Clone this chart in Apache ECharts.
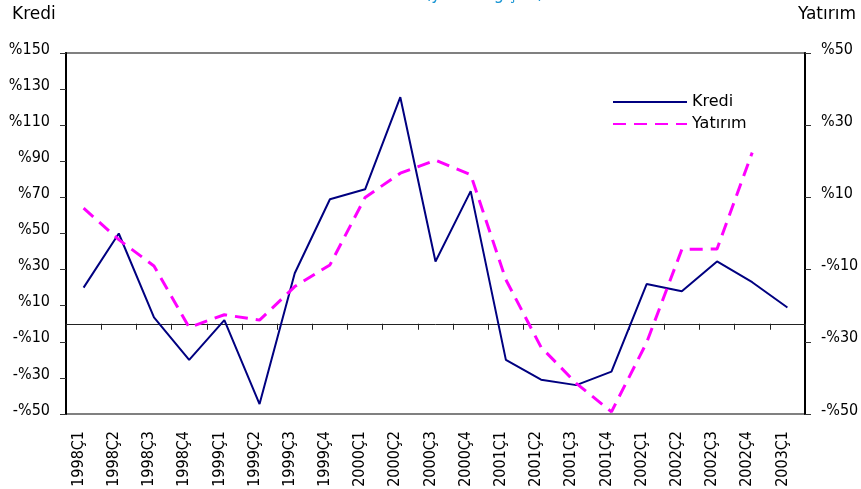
<!DOCTYPE html>
<html>
<head>
<meta charset="utf-8">
<script src="https://cdn.jsdelivr.net/npm/echarts@6/dist/echarts.min.js"></script>
<style>html,body{margin:0;padding:0;background:#fff}#c{width:861px;height:489px}</style>
</head>
<body>
<div id="c"></div>
<script>
const categories = ['1998Ç1','1998Ç2','1998Ç3','1998Ç4','1999Ç1','1999Ç2','1999Ç3','1999Ç4','2000Ç1','2000Ç2','2000Ç3','2000Ç4','2001Ç1','2001Ç2','2001Ç3','2001Ç4','2002Ç1','2002Ç2','2002Ç3','2002Ç4','2003Ç1'];
const krediValues = [20, 50, 3.5, -20, 2, -44.5, 28, 69, 74.5, 125.5, 34.5, 73.5, -20, -31, -34, -26.5, 22, 18, 34.5, 23, 9];
const yatirimValues = [7, -1.7, -9, -26, -22.5, -24, -14.7, -8.7, 10, 16.7, 20.3, 16.3, -12.8, -31.5, -41.5, -49.4, -30.2, -4.4, -4.3, 22.4, null];
const leftTicks = {min: -50, max: 150, step: 20};
const rightTicks = {min: -50, max: 50, step: 20};
const seriesNames = ['Kredi', 'Yatırım'];
const titleText = '(yıllık değişim)';

const FONT = '"DejaVu Sans Condensed", "DejaVu Sans", sans-serif';
const pct = v => (v < 0 ? '-%' + (-v) : '%' + v);

const chart = echarts.init(document.getElementById('c'), null, {renderer: 'canvas'});
chart.setOption({
  animation: false,
  backgroundColor: '#fff',
  textStyle: {fontFamily: FONT},
  title: [
    {text: titleText, left: 420, top: -20, textStyle: {fontFamily: FONT, fontSize: 18, fontWeight: 'normal', color: '#1a96d4'}},
    {text: seriesNames[0], left: 7, top: 1, textStyle: {fontFamily: '"DejaVu Sans", sans-serif', fontSize: 17, fontWeight: 'normal', color: '#000'}},
    {text: seriesNames[1], right: 0, top: 1, textStyle: {fontFamily: '"DejaVu Sans", sans-serif', fontSize: 17, fontWeight: 'normal', color: '#000'}}
  ],
  legend: {
    orient: 'vertical', left: 607, top: 89, itemWidth: 74, itemHeight: 14, itemGap: 6,
    itemStyle: {opacity: 0},
    textStyle: {fontFamily: '"DejaVu Sans", sans-serif', fontSize: 16, color: '#000', lineHeight: 14},
    data: seriesNames
  },
  grid: {left: 66, right: 56, top: 53, bottom: 75, show: true, borderColor: '#808080', borderWidth: 2, backgroundColor: 'transparent', containLabel: false, outerBoundsMode: 'none'},
  xAxis: [
    {type: 'category', data: categories, position: 'bottom', boundaryGap: true,
     axisLine: {show: false, onZero: false}, axisTick: {show: false},
     axisLabel: {rotate: 90, margin: 17, interval: 0, fontFamily: FONT, fontSize: 16, color: '#000', verticalAlign: 'bottom', lineHeight: 10}},
    {type: 'category', data: categories, position: 'top', boundaryGap: true,
     axisLine: {show: true, onZero: true, onZeroAxisIndex: 0, lineStyle: {color: '#222', width: 1}},
     axisTick: {show: true, inside: true, length: 6, interval: 0, lineStyle: {color: '#222'}},
     axisLabel: {show: false}}
  ],
  yAxis: [
    {type: 'value', position: 'left', min: leftTicks.min, max: leftTicks.max, interval: leftTicks.step,
     axisLine: {show: true, onZero: false, lineStyle: {color: '#000', width: 2}},
     axisTick: {show: true, length: 6, lineStyle: {color: '#333'}},
     splitLine: {show: false},
     axisLabel: {formatter: pct, margin: 16, fontFamily: FONT, fontSize: 16, color: '#000', verticalAlign: 'bottom', lineHeight: 7}},
    {type: 'value', position: 'right', min: rightTicks.min, max: rightTicks.max, interval: rightTicks.step,
     axisLine: {show: true, onZero: false, lineStyle: {color: '#000', width: 2}},
     axisTick: {show: true, length: 6, lineStyle: {color: '#333'}},
     splitLine: {show: false},
     axisLabel: {formatter: pct, margin: 16, fontFamily: FONT, fontSize: 16, color: '#000', verticalAlign: 'bottom', lineHeight: 7}}
  ],
  series: [
    {name: seriesNames[0], type: 'line', xAxisIndex: 0, yAxisIndex: 0, data: krediValues, symbol: 'none',
     lineStyle: {color: '#000080', width: 2}, itemStyle: {color: '#000080'}},
    {name: seriesNames[1], type: 'line', xAxisIndex: 0, yAxisIndex: 1, data: yatirimValues, symbol: 'none',
     lineStyle: {color: '#ff00ff', width: 3, type: [13, 8]}, itemStyle: {color: '#ff00ff'}}
  ]
});
</script>
</body>
</html>
